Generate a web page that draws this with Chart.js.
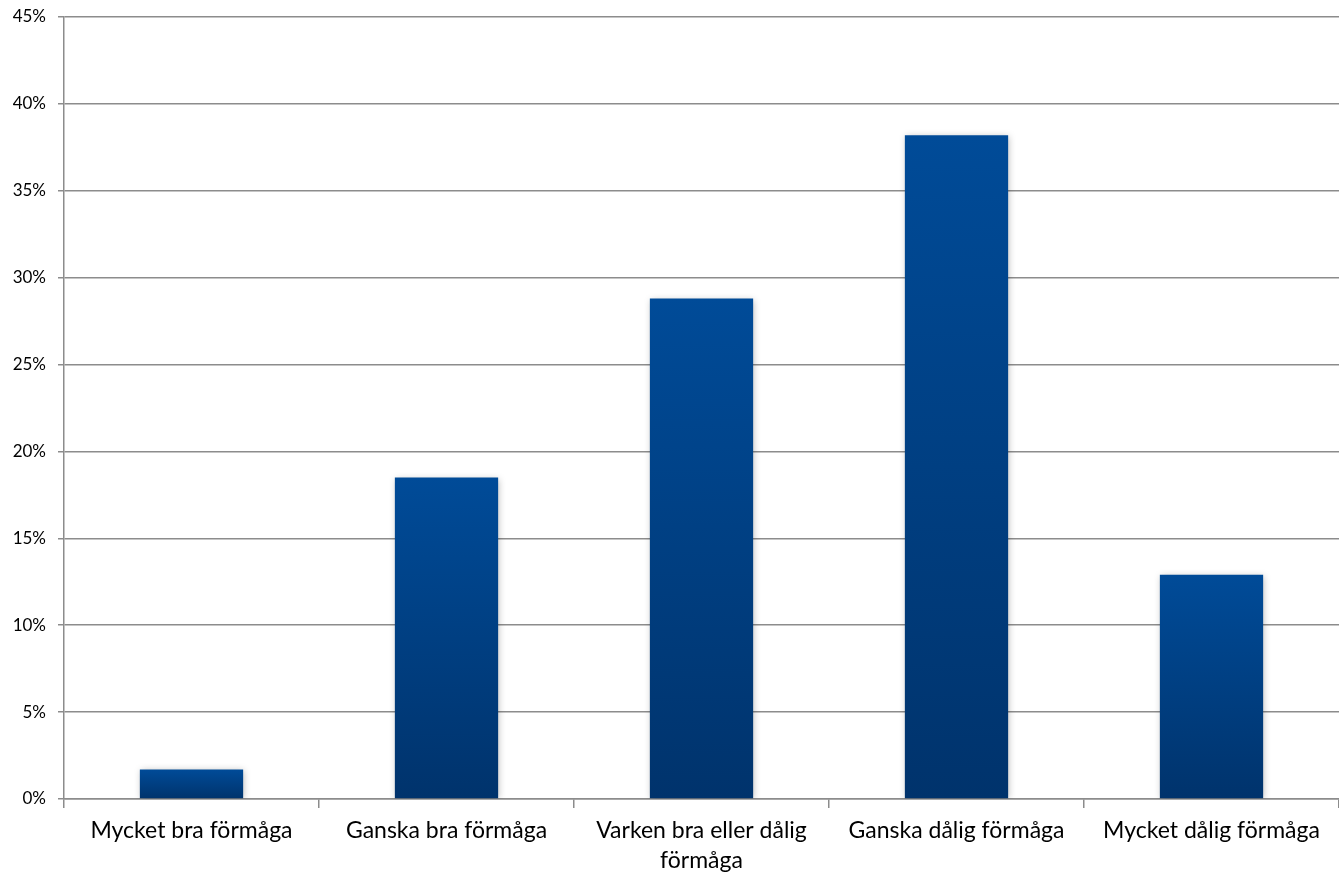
<!DOCTYPE html>
<html><head><meta charset="utf-8">
<script src="https://cdn.jsdelivr.net/npm/chart.js@4/dist/chart.umd.min.js"></script>
<style>html,body{margin:0;padding:0;background:#fff;}#wrap{width:1339px;height:874px;position:relative;}</style>
</head><body><div id="wrap"><canvas id="c"></canvas></div>
<script>
const categories = ["Mycket bra förmåga", "Ganska bra förmåga", ["Varken bra eller dålig", "förmåga"], "Ganska dålig förmåga", "Mycket dålig förmåga"];
const values = [1.7, 18.5, 28.8, 38.2, 12.9];
const yTicks = [0, 5, 10, 15, 20, 25, 30, 35, 40, 45];

const shadowPlugin = {
  id: 'shadow',
  beforeDatasetsDraw(chart) { const c = chart.ctx; c.save(); c.shadowColor = 'rgba(0,0,0,0.28)'; c.shadowBlur = 7; c.shadowOffsetX = 1; c.shadowOffsetY = 1; },
  afterDatasetsDraw(chart) { chart.ctx.restore(); }
};

new Chart(document.getElementById('c'), {
  type: 'bar',
  data: {
    labels: categories,
    datasets: [{
      data: values,
      backgroundColor: (ctx) => {
        const chart = ctx.chart;
        if (!chart.chartArea || ctx.dataIndex === undefined) return '#00408a';
        const ys = chart.scales.y;
        const top = ys.getPixelForValue(values[ctx.dataIndex]);
        const bot = ys.getPixelForValue(0);
        const g = chart.ctx.createLinearGradient(0, top, 0, bot);
        g.addColorStop(0, '#004b98');
        g.addColorStop(1, '#00336c');
        return g;
      },
      borderWidth: 0,
      barPercentage: 0.81,
      categoryPercentage: 0.5
    }]
  },
  options: {
    responsive: true, maintainAspectRatio: false, animation: false,
    layout: { padding: { top: 17, right: 0, left: 0, bottom: 0 } },
    plugins: { legend: { display: false }, tooltip: { enabled: false } },
    scales: {
      x: {
        offset: true,
        grid: { offset: true, drawOnChartArea: false, drawTicks: true, tickLength: 9, color: '#8c8c8c', lineWidth: 1.5 },
        border: { color: '#8c8c8c', width: 1.5 },
        ticks: { color: '#000', font: { family: 'Lato', size: 23, lineHeight: 1.3 }, padding: 8, maxRotation: 0, autoSkip: false },
        afterFit(s) { s.height = 75; s.paddingLeft = 0; s.paddingRight = 0; }
      },
      y: {
        min: 0, max: 45,
        afterBuildTicks(s) { s.ticks = yTicks.map(v => ({ value: v })); },
        grid: { color: '#8c8c8c', lineWidth: 1.5, tickLength: 6 },
        border: { color: '#8c8c8c', width: 1.5 },
        ticks: { color: '#000', font: { family: 'Lato', size: 17 }, padding: 12, callback: v => v + '%' },
        afterFit(s) { s.width = 64; s.paddingTop = 0; s.paddingBottom = 0; }
      }
    }
  },
  plugins: [shadowPlugin]
});
</script></body></html>
